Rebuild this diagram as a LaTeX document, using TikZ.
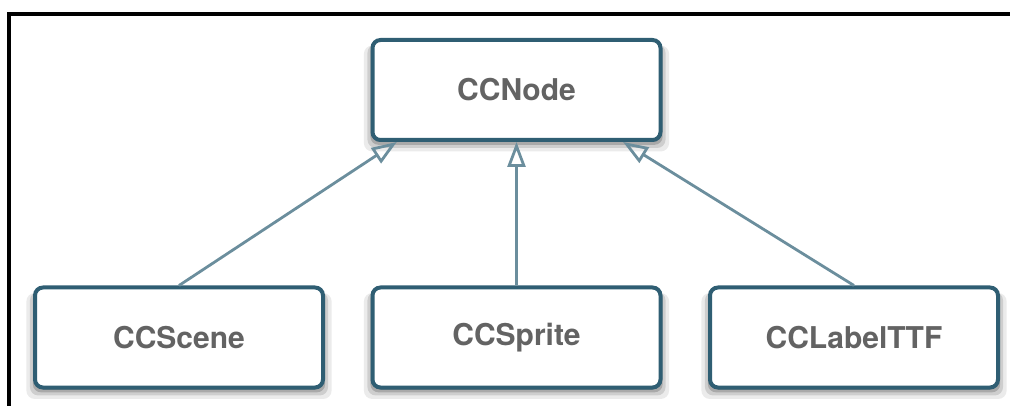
\documentclass[tikz,border=0pt]{standalone}
\usepackage{fontspec}
\setmainfont{TeX Gyre Heros}
\usepackage{tikz}
\usetikzlibrary{arrows.meta, positioning, calc, shadows}
\definecolor{boxline}{HTML}{2F5E73}
\definecolor{arrowline}{HTML}{6B8E9D}
\definecolor{labeltext}{HTML}{636363}

\begin{document}
\begin{tikzpicture}[x=1pt, y=-1pt,
    every node/.style={draw=boxline, line width=4pt, rounded corners=8pt, fill=white,
      minimum width=288pt, minimum height=100pt, text=labeltext,
      font=\fontsize{30}{36}\selectfont\bfseries,
      drop shadow={shadow xshift=0pt, shadow yshift=-8pt, shadow scale=1.06, opacity=0.08, fill=black},
      drop shadow={shadow xshift=0pt, shadow yshift=-6pt, shadow scale=1.035, opacity=0.12, fill=black},
      drop shadow={shadow xshift=0pt, shadow yshift=-4pt, shadow scale=1.015, opacity=0.18, fill=black},
      drop shadow={shadow xshift=0pt, shadow yshift=-2pt, shadow scale=1.0, opacity=0.25, fill=black}}]
    \useasboundingbox (0,0) rectangle (1010,406);
    \draw[line width=4pt] (9,406) -- (9,14) -- (1010,14);
    \node (ccnode) at (516.5,90) {CCNode};
    \node (scene) at (179,337.5) {CCScene};
    \node (sprite) at (516.5,337.5) {CCSprite};
    \node (label) at (854,337.5) {CCLabelTTF};
    \draw[arrowline, line width=2.8pt, -{Triangle[open, length=25pt, width=18pt]}] (scene.north) -- ($(ccnode.south west)!0.09!(ccnode.south east)$);
    \draw[arrowline, line width=2.8pt, -{Triangle[open, length=25pt, width=18pt]}] (sprite.north) -- (ccnode.south);
    \draw[arrowline, line width=2.8pt, -{Triangle[open, length=25pt, width=18pt]}] (label.north) -- ($(ccnode.south west)!0.865!(ccnode.south east)$);
\end{tikzpicture}
\end{document}
